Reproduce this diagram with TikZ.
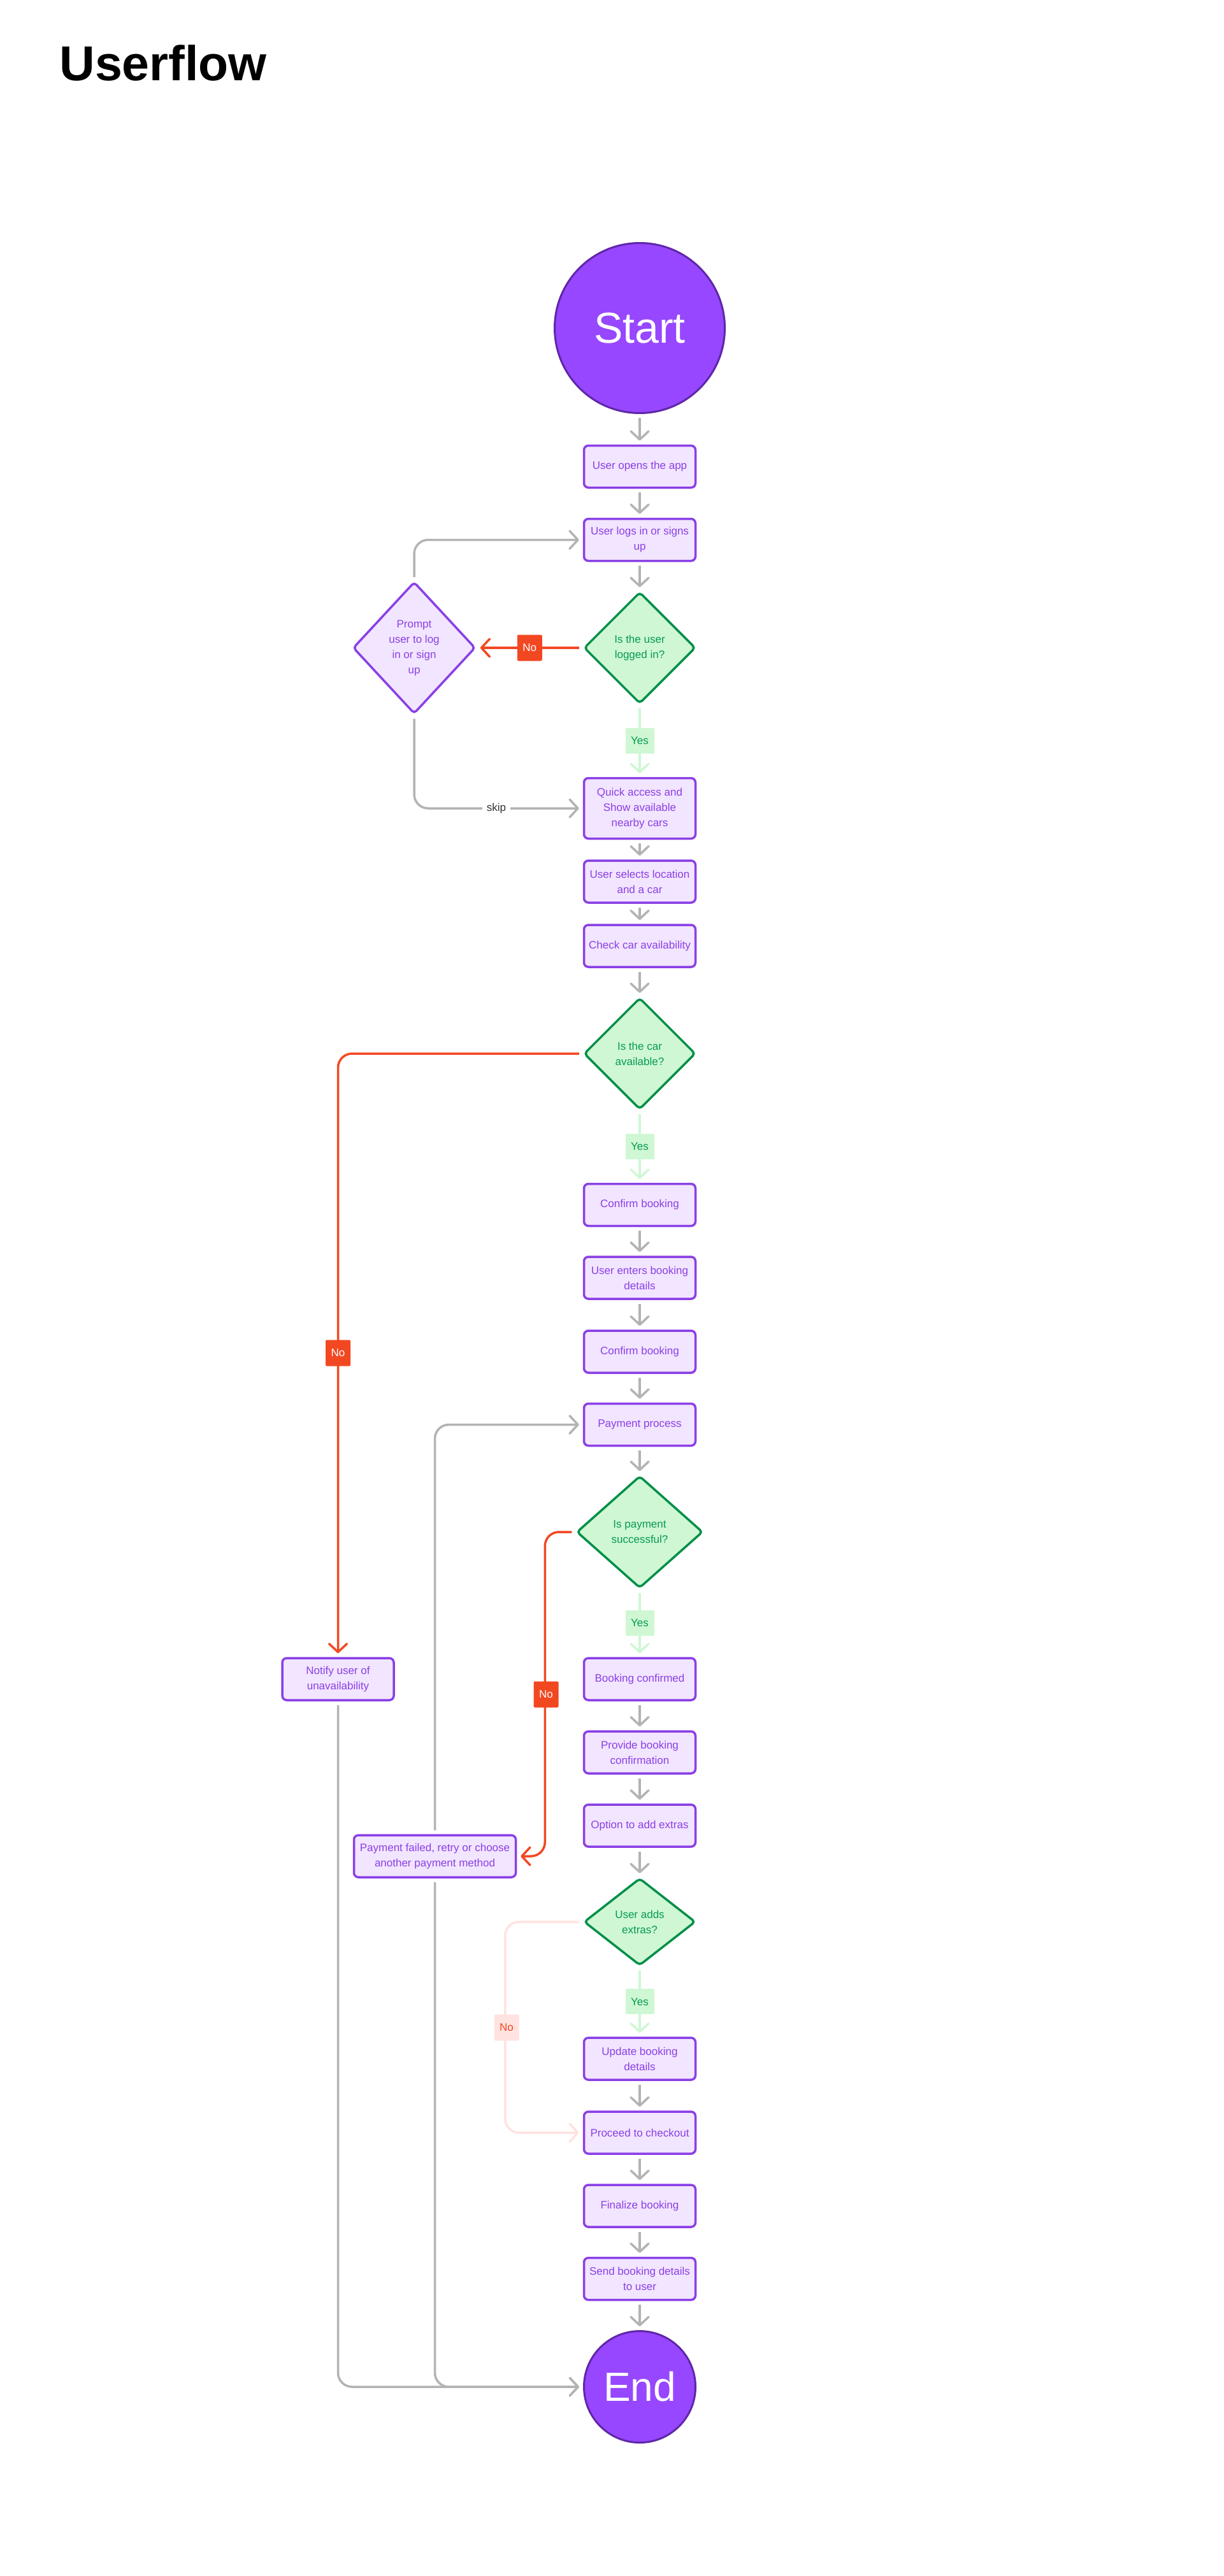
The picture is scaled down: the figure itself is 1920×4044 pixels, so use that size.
\documentclass[tikz,border=0pt]{standalone}
\usepackage{fontspec}
\setmainfont{Liberation Sans}
\usetikzlibrary{arrows.meta,shapes.geometric,calc}

\definecolor{pfill}{HTML}{F2E5FF}
\definecolor{pline}{HTML}{8A3FE6}
\definecolor{ptext}{HTML}{8A3FE6}
\definecolor{sfill}{HTML}{9747FF}
\definecolor{sline}{HTML}{5F27A8}
\definecolor{gfill}{HTML}{CFF7D3}
\definecolor{gline}{HTML}{008F48}
\definecolor{gtext}{HTML}{059B50}
\definecolor{rline}{HTML}{F24822}
\definecolor{pkline}{HTML}{FFE3E0}
\definecolor{conn}{HTML}{B3B3B3}
\definecolor{skiptext}{HTML}{333333}

\tikzset{
  body/.style={font=\fontsize{17pt}{24pt}\selectfont},
  stepbox/.style={body, draw=pline, fill=pfill, line width=3.5pt, rounded corners=7pt,
    minimum width=175pt, minimum height=66pt, inner sep=0pt, align=center, text=ptext},
  decide/.style={body, diamond, draw=gline, fill=gfill, line width=3.5pt, rounded corners=5pt,
    inner sep=0pt, align=center, text=gtext, minimum width=175pt, minimum height=175pt},
  term/.style={circle, draw=sline, fill=sfill, line width=3pt, text=white, inner sep=0pt,
    font=\fontsize{64pt}{70pt}\selectfont},
  tipA/.style={-{Straight Barb[length=13pt,width=28pt,round]}},
  flow/.style={draw=conn, line width=3.5pt, tipA, shorten <=6pt, shorten >=6pt},
  yesflow/.style={flow, draw=gfill},
  noflow/.style={flow, draw=rline},
  pinkflow/.style={flow, draw=pkline},
  yeslab/.style={body, fill=gfill, text=gtext, minimum width=45pt, minimum height=40pt, inner sep=0pt},
  nolab/.style={body, fill=rline, text=white, minimum width=39pt, minimum height=41pt, inner sep=0pt, rounded corners=2pt},
  pinklab/.style={body, fill=pkline, text=rline, minimum width=39pt, minimum height=41pt, inner sep=0pt, rounded corners=2pt},
  skiplab/.style={body, fill=white, text=skiptext, inner xsep=7pt, inner ysep=2pt},
}

\begin{document}
\begin{tikzpicture}[x=1pt,y=-1pt]
\fill[white] (0,0) rectangle (1920,4044);
\useasboundingbox (0,0) rectangle (1920,4044);

\node[anchor=base west, font=\fontsize{77pt}{80pt}\selectfont\bfseries] (title) at (90,127) {Userflow};

% main column
\node[term, minimum size=267pt, font=\fontsize{68pt}{74pt}\selectfont] (start) at (1004,515) {Start};
\node[stepbox] (open) at (1004,732.5) {User opens the app};
\node[stepbox] (login) at (1004,847.5) {User logs in or signs\\up};
\node[decide] (logged) at (1004,1017) {Is the user\\logged in?};
\node[decide, draw=pline, fill=pfill, text=ptext, minimum width=192pt, minimum height=207pt] (prompt) at (650,1017) {Prompt\\user to log\\in or sign\\up};
\node[stepbox, minimum height=95pt] (quick) at (1004,1269) {Quick access and\\Show available\\nearby cars};
\node[stepbox] (select) at (1004,1384) {User selects location\\and a car};
\node[stepbox] (check) at (1004,1485) {Check car availability};
\node[decide] (avail) at (1004,1654) {Is the car\\available?};
\node[stepbox] (confirmA) at (1004,1891.5) {Confirm booking};
\node[stepbox] (enter) at (1004,2006) {User enters booking\\details};
\node[stepbox] (confirmB) at (1004,2122) {Confirm booking};
\node[stepbox] (pay) at (1004,2236.5) {Payment process};
\node[decide, minimum width=198pt, minimum height=176pt] (paid) at (1004,2405) {Is payment\\successful?};
\node[stepbox] (booked) at (1004,2636) {Booking confirmed};
\node[stepbox] (provide) at (1004,2751) {Provide booking\\confirmation};
\node[stepbox] (option) at (1004,2866) {Option to add extras};
\node[decide, minimum height=137pt] (extras) at (1004,3017) {User adds\\extras?};
\node[stepbox] (update) at (1004,3232) {Update booking\\details};
\node[stepbox] (proceed) at (1004,3348) {Proceed to checkout};
\node[stepbox] (final) at (1004,3463) {Finalize booking};
\node[stepbox] (send) at (1004,3577.5) {Send booking details\\to user};
\node[term, minimum size=175pt] (end) at (1004,3747) {End};

% side nodes
\node[stepbox] (notify) at (530.5,2636) {Notify user of\\unavailability};
\node[stepbox, minimum width=254pt] (failed) at (682.5,2914) {Payment failed, retry or choose\\another payment method};

% straight gray arrows
\foreach \a/\b in {start/open, open/login, login/logged, quick/select, select/check, check/avail,
  confirmA/enter, enter/confirmB, confirmB/pay, pay/paid, booked/provide, provide/option,
  option/extras, update/proceed, proceed/final, final/send, send/end}
  \draw[flow] (\a) -- (\b);

% yes arrows
\draw[yesflow] (logged) -- node[yeslab] (yesA) {Yes} (quick);
\draw[yesflow] (avail) -- node[yeslab] (yesB) {Yes} (confirmA);
\draw[yesflow] (paid) -- node[yeslab] (yesC) {Yes} (booked);
\draw[yesflow] (extras) -- node[yeslab] (yesD) {Yes} (update);

% no arrows
\draw[noflow] (logged) -- node[nolab] (noA) {No} (prompt);
\draw[noflow, rounded corners=22pt] (avail.west) -| (notify.north);
\draw[noflow, rounded corners=22pt] (paid.west) -- ++(-48,0) |- (failed.east);
\draw[pinkflow, rounded corners=22pt] (extras.west) -- ++(-122,0) |- (proceed.west);

% gray loops
\draw[flow, rounded corners=22pt] (prompt.north) |- (login.west);
\draw[flow, rounded corners=22pt] (prompt.south) |- (quick.west);
\draw[flow, rounded corners=22pt] (failed.north) |- (pay.west);
\draw[flow, rounded corners=22pt] (failed.south) |- (end.west);
\draw[flow, rounded corners=22pt] (notify.south) |- (end.west);

% labels on bent connectors
\node[skiplab] (skip) at (779,1269) {skip};
\node[nolab] (noB) at (530.5,2124) {No};
\node[nolab] (noC) at (857,2660) {No};
\node[pinklab] (noD) at (795,3183) {No};
\end{tikzpicture}
\end{document}
